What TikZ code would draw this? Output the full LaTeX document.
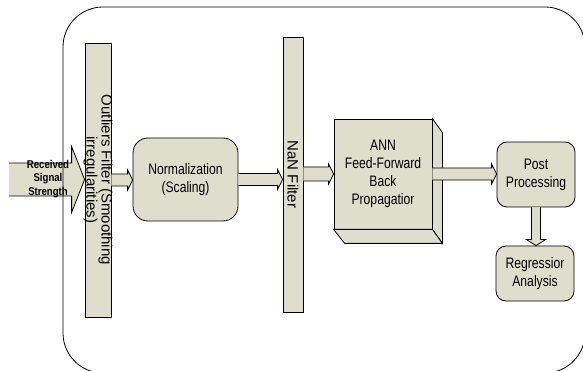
\documentclass[tikz,border=0pt]{standalone}
\usepackage{fontspec}
\setmainfont{Liberation Sans}
\newfontfamily\labelfont[FakeStretch=0.8]{Liberation Sans}
\newfontfamily\inputfont[FakeStretch=0.85]{Liberation Sans}
\usetikzlibrary{calc}
\definecolor{boxfill}{RGB}{221,223,204}

\tikzset{
  flowline/.style={draw=black, line width=0.8pt, line join=miter},
  stagefont/.style={font=\labelfont\fontsize{15.2}{18}\selectfont},
  stage/.style={flowline, fill=boxfill, inner sep=0pt, align=center, stagefont},
  roundstage/.style={stage, rounded corners=10pt},
  filterbar/.style={flowline, fill=boxfill, inner sep=0pt},
  bartext/.style={rotate=-90, align=center, inner sep=0pt,
    font=\fontsize{15}{13.5}\selectfont},
}

% horizontal block arrow: from, to, shaft half-width, head half-width, head length
\newcommand\hflow[5]{%
  \fill[boxfill] let \p1=(#1), \p2=(#2) in
    (\x1,\y1+#3) -- (\x2-#5,\y1+#3) -- (\x2-#5,\y1+#4) -- (\x2,\y1)
    -- (\x2-#5,\y1-#4) -- (\x2-#5,\y1-#3) -- (\x1,\y1-#3) -- cycle;
  \draw[flowline] let \p1=(#1), \p2=(#2) in
    (\x1,\y1+#3) -- (\x2-#5,\y1+#3) -- (\x2-#5,\y1+#4) -- (\x2,\y1)
    -- (\x2-#5,\y1-#4) -- (\x2-#5,\y1-#3) -- (\x1,\y1-#3);
}
% vertical (downward) block arrow with the same arguments
\newcommand\vflow[5]{%
  \fill[boxfill] let \p1=(#1), \p2=(#2) in
    (\x1-#3,\y1) -- (\x1-#3,\y2+#5) -- (\x1-#4,\y2+#5) -- (\x1,\y2)
    -- (\x1+#4,\y2+#5) -- (\x1+#3,\y2+#5) -- (\x1+#3,\y1) -- cycle;
  \draw[flowline] let \p1=(#1), \p2=(#2) in
    (\x1-#3,\y1) -- (\x1-#3,\y2+#5) -- (\x1-#4,\y2+#5) -- (\x1,\y2)
    -- (\x1+#4,\y2+#5) -- (\x1+#3,\y2+#5) -- (\x1+#3,\y1);
}

\begin{document}
\begin{tikzpicture}[x=1pt, y=-1pt]
\useasboundingbox (0,0) rectangle (583,371);
\clip (0,0) rectangle (583,371);
\fill[white] (0,0) rectangle (583,371);

% processing stages
\node[filterbar, minimum width=26pt, minimum height=274pt] (outl) at (98,180) {};
\node[bartext] (outltext) at (outl.center) {Outliers Filter (Smoothing\\irregularities)};

\node[stage, rounded corners=15pt, minimum width=105pt, minimum height=83pt]
  (norm) at (185.5,179.5) {Normalization\\(Scaling)};

\node[filterbar, minimum width=20pt, minimum height=275pt] (nan) at (293,174.5) {};
\node[bartext] (nantext) at (nan.center) {NaN Filter};

\node[stage, minimum width=98pt, minimum height=110pt] (ann) at (383,174) {};
\draw[flowline, fill=boxfill] (ann.north east) -- ++(10,14)
  -- ($(ann.south east)+(10,14)$) -- (ann.south east) -- cycle;
\draw[flowline, fill=boxfill] (ann.south west) -- (ann.south east)
  -- ($(ann.south east)+(10,14)$) -- ($(ann.south west)+(11,14)$) -- cycle;
\node[stagefont, align=center, inner sep=0pt]
  (anntext) at (ann.center) {ANN\\Feed-Forward\\Back\\Propagatior};

\node[roundstage, minimum width=78pt, minimum height=65pt] (post) at (536,174.5)
  {Post\\Processing};
\node[roundstage, minimum width=78pt, minimum height=55pt] (regr) at (535,273.5)
  {Regressior\\Analysis};

% input signal
\coordinate (src) at (9,179.5);
\hflow{src}{outl.west}{16.5pt}{33pt}{13pt}
\node[font=\inputfont\bfseries\fontsize{11.3}{13.8}\selectfont, align=center, inner sep=0pt]
  (inp) at (48,179) {Received\\Signal\\Strength};

% flow between stages
\hflow{outl.east}{norm.west}{6pt}{10pt}{5pt}
\coordinate (nanin) at (norm.east -| nan.west);
\hflow{norm.east}{nanin}{6pt}{10pt}{5pt}
\coordinate (nanout) at (nan.east |- ann.west);
\hflow{nanout}{ann.west}{7pt}{10pt}{5pt}
\hflow{ann.east}{post.west}{6pt}{10pt}{5pt}
\vflow{post.south}{regr.north}{4.5pt}{9.5pt}{6pt}

% enclosing frame
\draw[line width=0.8pt, rounded corners=40pt] (63,7) rectangle (585,373);
\end{tikzpicture}
\end{document}
